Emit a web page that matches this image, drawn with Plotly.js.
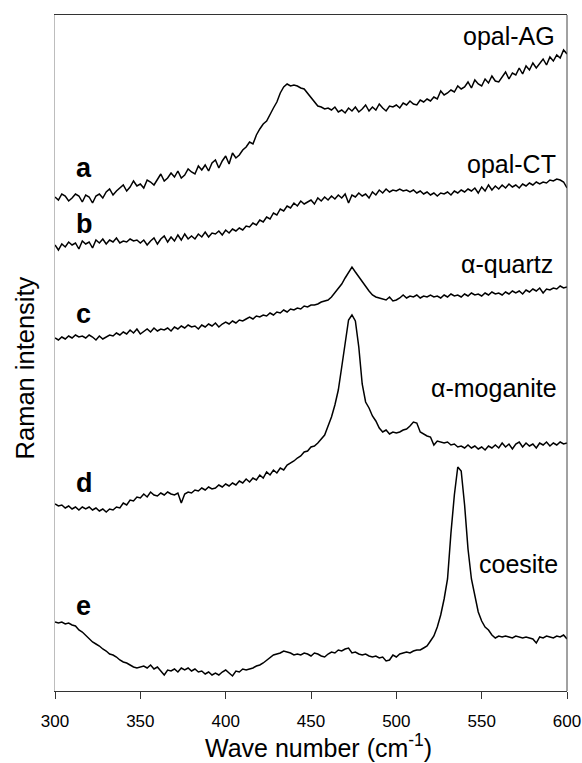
<!DOCTYPE html>
<html>
<head>
<meta charset="utf-8">
<script src="https://cdn.plot.ly/plotly-3.0.1.min.js"></script>
<style>html,body{margin:0;padding:0;background:#fff;}#chart{width:582px;height:763px;}</style>
</head>
<body>
<div id="chart"></div>
<script>
// Wave number grid (cm-1)
const waveNumber = [
300,302,304,306,308,310,312,314,316,318,
320,322,324,326,328,330,332,334,336,338,
340,342,344,346,348,350,352,354,356,358,
360,362,364,366,368,370,372,374,376,378,
380,382,384,386,388,390,392,394,396,398,
400,402,404,406,408,410,412,414,416,418,
420,422,424,426,428,430,432,434,436,438,
440,442,444,446,448,450,452,454,456,458,
460,462,464,466,468,470,472,474,476,478,
480,482,484,486,488,490,492,494,496,498,
500,502,504,506,508,510,512,514,516,518,
520,522,524,526,528,530,532,534,536,538,
540,542,544,546,548,550,552,554,556,558,
560,562,564,566,568,570,572,574,576,578,
580,582,584,586,588,590,592,594,596,598,
600];

// a: opal-AG (offset intensity, arbitrary units)
const opalAG = [
494,491,497,495,490,493,497,495,489,496,
494,488,495,497,493,499,502,496,500,503,
506,500,504,510,505,507,503,511,509,506,
512,517,510,513,518,514,520,513,516,522,
519,517,525,521,526,520,528,531,523,530,
535,527,538,533,536,541,544,549,547,556,
562,567,570,577,583,589,598,604,607,605,
606,605,603,602,598,593,589,585,584,582,
583,581,584,579,581,578,583,580,584,579,
582,586,580,584,581,587,583,580,585,584,
586,583,588,586,590,587,586,591,589,592,
590,594,592,600,596,598,601,599,605,602,
604,609,603,611,607,605,612,608,615,610,
609,614,619,612,618,616,623,617,625,621,
628,623,627,632,626,634,630,636,633,641,
637];

// b: opal-CT
const opalCT = [
446,441,447,444,449,446,448,442,450,447,
449,443,451,448,452,447,451,449,453,448,
450,449,452,450,451,448,451,446,450,453,
447,452,455,449,454,450,456,451,457,452,
455,452,457,454,459,454,458,457,460,456,
461,458,462,460,463,461,465,464,468,466,
471,469,474,472,478,476,482,480,485,483,
488,485,490,487,489,491,487,493,490,494,
491,495,492,496,493,497,488,496,494,498,
495,497,493,499,496,501,498,502,499,501,
500,502,500,501,499,501,498,500,497,499,
496,498,495,498,497,499,496,500,498,501,
499,502,500,503,498,504,500,506,501,505,
502,506,503,507,504,506,503,507,505,508,
506,509,507,509,508,511,510,512,511,509,
503];

// c: alpha-quartz
const alphaQuartz = [
353,351,354,352,355,353,356,354,355,353,
356,354,351,355,352,354,356,355,358,356,
359,357,361,358,362,357,360,362,359,363,
360,362,361,363,360,364,362,365,363,366,
364,365,362,366,364,367,365,368,364,367,
369,367,370,368,371,370,372,374,372,375,
374,376,375,378,376,379,378,381,379,382,
381,383,382,385,384,386,386,387,389,390,
391,394,398,402,407,413,418,424,419,414,
409,404,400,396,394,393,392,391,394,390,
391,393,396,393,395,394,396,393,395,394,
396,394,395,393,396,394,397,395,396,394,
397,395,398,396,397,395,398,396,399,397,
398,396,399,397,400,398,400,397,401,399,
402,400,403,398,402,401,403,402,405,403,
404];

// d: alpha-moganite
const alphaMoganite = [
187,185,186,183,185,182,184,181,184,182,
184,181,183,180,182,179,182,181,184,183,
188,186,191,190,194,193,197,194,199,196,
195,198,196,199,197,196,198,188,197,199,
198,201,200,203,201,204,202,203,206,204,
207,205,208,206,210,208,212,209,213,211,
216,213,219,216,221,218,223,221,226,228,
230,233,235,239,240,244,245,248,252,256,
265,274,286,301,324,348,371,376,370,344,
307,289,283,275,270,263,259,261,257,259,
258,259,261,262,265,269,268,259,257,255,
254,246,250,249,248,249,246,247,244,245,
243,246,243,245,242,244,241,245,243,246,
243,248,244,247,242,247,249,244,248,245,
247,243,248,246,249,245,248,246,249,247,
248];

// e: coesite
const coesite = [
69,68,69,67,68,66,65,61,59,56,
53,49,47,45,42,40,37,36,34,31,
29,28,26,24,23,24,25,23,26,22,
24,20,16,21,20,22,19,23,21,23,
20,22,19,20,17,19,16,18,16,19,
21,18,15,20,19,22,21,22,23,25,
26,28,31,33,36,37,38,40,39,38,
36,37,36,38,37,35,38,37,35,34,
37,39,38,41,40,42,43,38,39,37,
36,37,35,34,35,33,34,30,31,36,
34,37,38,39,38,40,41,41,43,45,
50,55,64,76,92,112,158,196,224,220,
186,142,112,94,79,70,64,61,56,53,
55,54,55,54,53,55,54,53,54,53,
52,48,54,53,55,54,53,55,54,56,
52];

const xTicks = [300, 350, 400, 450, 500, 550, 600];
const letterLabels = ['a', 'b', 'c', 'd', 'e'];
const phaseNames = ['opal-AG', 'opal-CT', 'α-quartz', 'α-moganite', 'coesite'];
const series = [opalAG, opalCT, alphaQuartz, alphaMoganite, coesite];

const FONT = 'Arial, "Liberation Sans", Helvetica, sans-serif';

const traces = series.map((ys, i) => ({
  x: waveNumber, y: ys, type: 'scatter', mode: 'lines',
  name: phaseNames[i],
  line: {color: '#000', width: 1.5},
  hoverinfo: 'skip'
}));

// label placement (layout only)
const letterY = [523, 467.5, 377.5, 208.5, 85.5];
const nameX = [594.0, 594.6, 593.0, 595.5, 595.9];
const nameY = [655, 527, 427, 303, 127];

const annotations = [];
letterLabels.forEach((t, i) => annotations.push({
  text: '<b>' + t + '</b>', x: 311, y: letterY[i], xref: 'x', yref: 'y',
  xanchor: 'left', yanchor: 'middle', showarrow: false,
  font: {family: FONT, size: 27, color: '#000'}
}));
phaseNames.forEach((t, i) => annotations.push({
  text: t, x: nameX[i], y: nameY[i], xref: 'x', yref: 'y',
  xanchor: 'right', yanchor: 'middle', showarrow: false,
  font: {family: FONT, size: 25, color: '#000'}
}));
annotations.push({
  text: 'Raman intensity', textangle: -90, x: -0.0586, y: 0.4786,
  xref: 'paper', yref: 'paper', xanchor: 'center', yanchor: 'middle',
  showarrow: false, font: {family: FONT, size: 25.5, color: '#000'}
});
annotations.push({
  text: 'Wave number (cm<sup>-1</sup>)', x: 0.5156, y: -0.0820,
  xref: 'paper', yref: 'paper', xanchor: 'center', yanchor: 'middle',
  showarrow: false, font: {family: FONT, size: 25, color: '#000'}
});

const layout = {
  width: 582, height: 763,
  margin: {l: 55, r: 15, t: 15, b: 72, pad: 0},
  paper_bgcolor: '#fff', plot_bgcolor: '#fff',
  showlegend: false,
  xaxis: {
    range: [300, 600], tickvals: xTicks, ticktext: xTicks.map(String),
    ticks: 'outside', ticklen: 7, tickwidth: 1, tickcolor: '#333',
    ticklabelstandoff: 8,
    showline: true, linecolor: '#333', linewidth: 1, mirror: true,
    showgrid: false, zeroline: false,
    tickfont: {family: FONT, size: 17, color: '#000'}
  },
  yaxis: {
    range: [0, 676], showticklabels: false, ticks: '',
    showline: true, linecolor: '#bdbdbd', linewidth: 1,
    showgrid: false, zeroline: false
  },
  shapes: [{
    type: 'line', xref: 'paper', yref: 'paper', x0: 1, x1: 1, y0: 0, y1: 1,
    line: {color: '#444', width: 1}
  }],
  annotations: annotations
};

Plotly.newPlot('chart', traces, layout, {staticPlot: true, displayModeBar: false});
</script>
</body>
</html>
